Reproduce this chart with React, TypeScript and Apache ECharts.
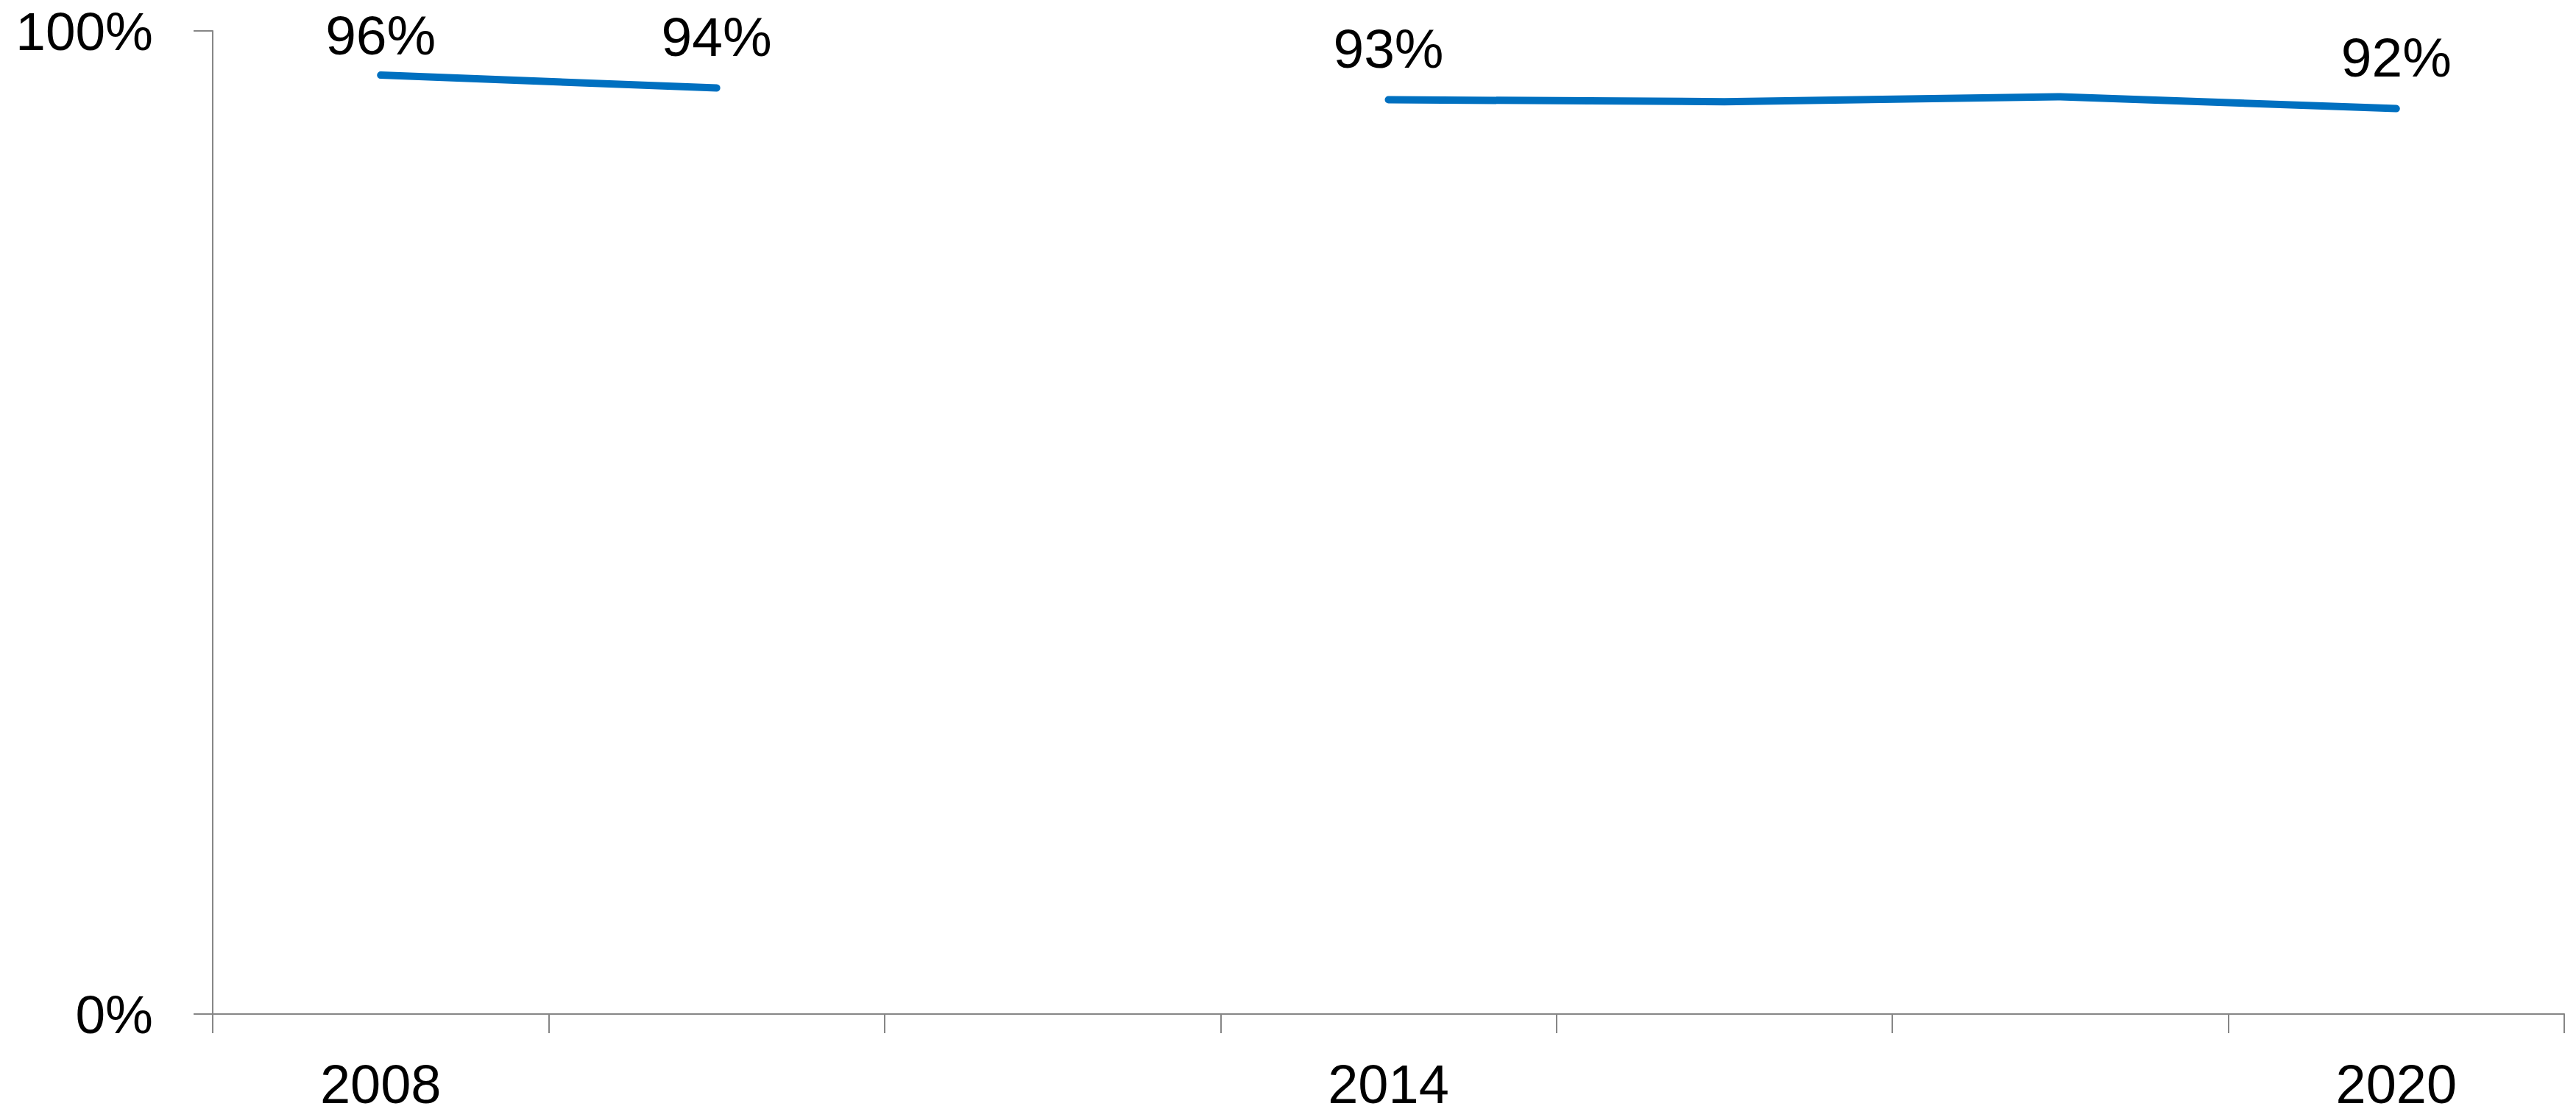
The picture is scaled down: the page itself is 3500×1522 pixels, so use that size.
import React, { useEffect, useRef } from "react";
import * as echarts from "echarts";

const categories = ["2008", "2010", "2012", "2014", "2016", "2018", "2020"];
const values: (number | null)[] = [95.5, 94.2, null, 93.0, 92.8, 93.3, 92.1];
const labelShown = [true, true, false, true, false, false, true];
const yTicks = { min: 0, max: 100, interval: 100 };

const FONT = "'Liberation Sans', Arial, sans-serif";

export default function App() {
  const ref = useRef<HTMLDivElement>(null);
  useEffect(() => {
    if (!ref.current) return;
    const chart = echarts.init(ref.current, null, { renderer: "svg" });
    chart.setOption({
      animation: false,
      backgroundColor: "#ffffff",
      grid: { left: 289, right: 16, top: 42, bottom: 144, containLabel: false },
      xAxis: {
        type: "category",
        data: categories,
        boundaryGap: true,
        axisLine: { show: true, lineStyle: { color: "#868686", width: 2 } },
        axisTick: { show: true, interval: 0, length: 26, lineStyle: { color: "#868686", width: 2 } },
        axisLabel: {
          interval: 2,
          margin: 58,
          fontSize: 74,
          fontFamily: FONT,
          color: "#000000",
        },
        splitLine: { show: false },
      },
      yAxis: {
        type: "value",
        min: yTicks.min,
        max: yTicks.max,
        interval: yTicks.interval,
        axisLine: { show: true, lineStyle: { color: "#868686", width: 2 } },
        axisTick: { show: true, length: 26, lineStyle: { color: "#868686", width: 2 } },
        axisLabel: {
          margin: 81,
          fontSize: 73,
          fontFamily: FONT,
          color: "#000000",
          formatter: "{value}%",
        },
        splitLine: { show: false },
      },
      series: [
        {
          type: "line",
          data: values,
          connectNulls: false,
          showSymbol: true,
          symbol: "circle",
          symbolSize: 0,
          lineStyle: { color: "#0070C0", width: 10, cap: "round", join: "round" },
          itemStyle: { color: "#0070C0" },
          label: {
            show: true,
            position: "top",
            distance: 32,
            fontSize: 75,
            fontFamily: FONT,
            color: "#000000",
            formatter: (p: any) =>
              labelShown[p.dataIndex] && p.value != null ? Math.round(p.value) + "%" : "",
          },
          labelLayout: (p: any) => {
            const r = p.labelRect;
            if (r && r.y < 10)
              return {
                x: r.x + r.width / 2,
                y: 10 + r.height / 2,
                align: "center",
                verticalAlign: "middle",
              };
            return {};
          },
        },
      ],
    });
    return () => chart.dispose();
  }, []);
  return (
    <div
      ref={ref}
      style={{ position: "fixed", left: 0, top: 0, width: 3500, height: 1522, background: "#fff" }}
    />
  );
}
